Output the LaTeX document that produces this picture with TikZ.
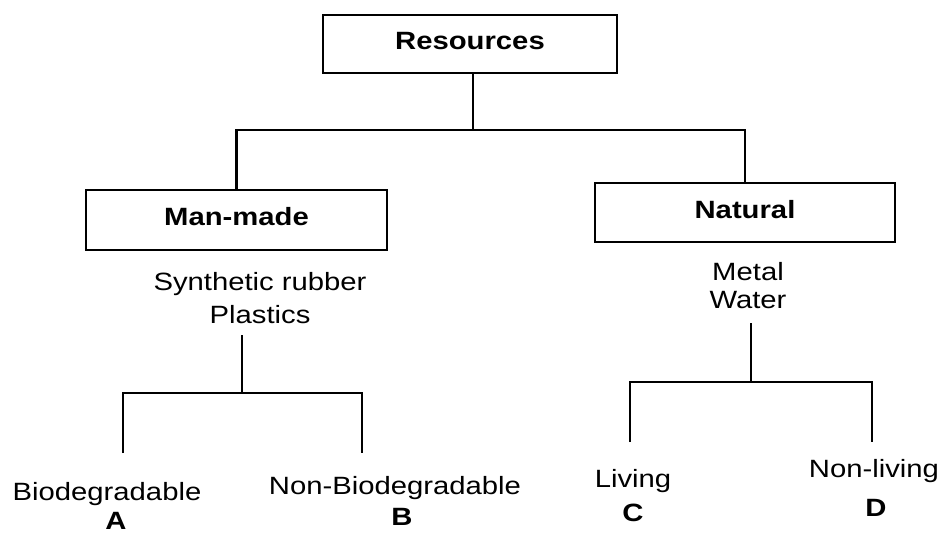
\documentclass[tikz,border=0pt]{standalone}
\usepackage{fontspec}
\setmainfont{Liberation Sans}[FakeStretch=1.17]
\begin{document}
\begin{tikzpicture}[x=1pt,y=-1pt,
  every node/.style={inner sep=0pt, font=\fontsize{25}{33}\selectfont},
  box/.style={draw, line width=2.2pt, text height=18pt, text depth=7pt,
              font=\fontsize{25}{33}\selectfont\bfseries},
  lbl/.style={anchor=base},
  tag/.style={anchor=base, font=\fontsize{25}{33}\selectfont\bfseries},
  link/.style={line width=2.2pt}]
\useasboundingbox (0,0) rectangle (945,535);

% category boxes
\node[box, minimum width=294pt, minimum height=58pt] (res) at (470,44) {Resources};
\node[box, minimum width=301pt, minimum height=60pt] (man) at (236.5,220) {Man-made};
\node[box, minimum width=300pt, minimum height=59pt] (nat) at (745,212.5) {Natural};

% examples under each category
\node[align=center, anchor=north] (mit) at (260,272) {Synthetic rubber\\Plastics};
\node[align=center, anchor=north, font=\fontsize{25}{28}\selectfont] (nit) at (748,262) {Metal\\Water};

% leaf labels
\node[lbl] (bio)  at (107,500) {Biodegradable};
\node[tag] (la)   at (116,529) {A};
\node[lbl] (nbio) at (395,494) {Non-Biodegradable};
\node[tag] (lb)   at (402,525) {B};
\node[lbl] (liv)  at (633,487) {Living};
\node[tag] (lc)   at (633,521) {C};
\node[lbl] (nliv) at (874,477) {Non-living};
\node[tag] (ld)   at (876,516) {D};

% junction points of the tree
\coordinate (j1) at (473,130);
\coordinate (j2) at (242,393);
\coordinate (j3) at (751,382);
\coordinate (d2) at (242,335);
\coordinate (d3) at (751,323);
\coordinate (bioTop)  at (123,453);
\coordinate (nbioTop) at (362,453);
\coordinate (livTop)  at (630,442);
\coordinate (nlivTop) at (872,442);

% connectors
\draw[link] (res.south -| j1) -- (j1);
\draw[link] (man.north) |- (j1) -| (nat.north);
\draw[link] (d2) -- (j2);
\draw[link] (bioTop) |- (j2) -| (nbioTop);
\draw[link] (d3) -- (j3);
\draw[link] (livTop) |- (j3) -| (nlivTop);
\end{tikzpicture}
\end{document}
